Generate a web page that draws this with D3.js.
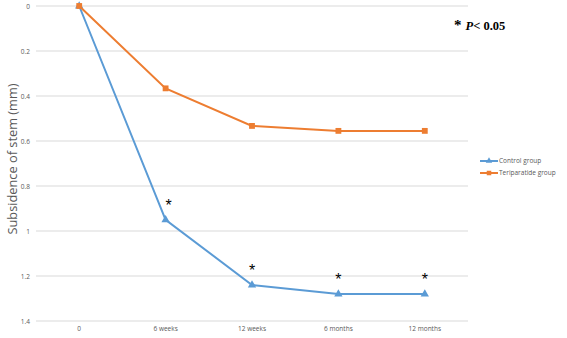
<!DOCTYPE html>
<html>
<head>
<meta charset="utf-8">
<script src="https://cdn.jsdelivr.net/npm/d3@7"></script>
<style>
  body { margin: 0; background: #fff; }
  svg { display: block; }
</style>
</head>
<body>
<svg id="chart" width="567" height="338"></svg>
<script>
var categories = ["0", "6 weeks", "12 weeks", "6 months", "12 months"];
var controlValues = [0, 0.95, 1.24, 1.28, 1.28];
var teriparatideValues = [0, 0.366, 0.533, 0.555, 0.555];
var yTicks = [0, 0.2, 0.4, 0.6, 0.8, 1, 1.2, 1.4];
// categories where control differs significantly (asterisks)
var sigCategories = ["6 weeks", "12 weeks", "6 months", "12 months"];

var svg = d3.select("#chart");

var x = d3.scaleBand()
    .domain(categories)
    .range([36, 468]);

// inverted axis: 0 on top, 1.4 at bottom
var y = d3.scaleLinear()
    .domain([0, 1.4])
    .range([6, 321]);

var grey = "#595959";

// gridlines
svg.append("g")
    .selectAll("line")
    .data(yTicks)
    .join("line")
    .attr("x1", 36)
    .attr("x2", 468)
    .attr("y1", function(d) { return y(d); })
    .attr("y2", function(d) { return y(d); })
    .attr("stroke", "#d9d9d9")
    .attr("stroke-width", 1);

// y axis labels
var yAxis = svg.append("g")
    .attr("transform", "translate(30,0)")
    .call(d3.axisLeft(y).tickValues(yTicks).tickSize(0).tickPadding(0)
        .tickFormat(function(d) { return String(d); }));
yAxis.select(".domain").remove();
yAxis.selectAll("text")
    .attr("fill", grey)
    .style("font-family", "'Open Sans', sans-serif")
    .style("font-size", "6.5px");

// x axis labels
var xAxis = svg.append("g")
    .attr("transform", "translate(0,326)")
    .call(d3.axisBottom(x).tickSize(0).tickPadding(0));
xAxis.select(".domain").remove();
xAxis.selectAll("text")
    .attr("fill", grey)
    .attr("dy", "0.7em")
    .style("font-family", "'Open Sans', sans-serif")
    .style("font-size", "6.5px");

// y axis title
svg.append("text")
    .attr("transform", "translate(17,159) rotate(-90)")
    .attr("text-anchor", "middle")
    .attr("fill", grey)
    .style("font-family", "'Open Sans', sans-serif")
    .style("font-size", "12.8px")
    .text("Subsidence of stem (mm)");

function cx(i) { return x(categories[i]) + x.bandwidth() / 2; }

var line = d3.line()
    .x(function(d, i) { return cx(i); })
    .y(function(d) { return y(d); });

var series = [
    { name: "Control group", values: controlValues, color: "#5B9BD5", marker: d3.symbolTriangle, size: 30 },
    { name: "Teriparatide group", values: teriparatideValues, color: "#ED7D31", marker: d3.symbolSquare, size: 34 }
];

series.forEach(function(s) {
    svg.append("path")
        .datum(s.values)
        .attr("d", line)
        .attr("fill", "none")
        .attr("stroke", s.color)
        .attr("stroke-width", 2);

    svg.append("g")
        .selectAll("path")
        .data(s.values)
        .join("path")
        .attr("d", d3.symbol().type(s.marker).size(s.size))
        .attr("transform", function(d, i) { return "translate(" + cx(i) + "," + y(d) + ")"; })
        .attr("fill", s.color);
});

// significance asterisks above the control points
svg.append("g")
    .selectAll("text")
    .data(sigCategories)
    .join("text")
    .attr("x", function(c) {
        var i = categories.indexOf(c);
        return cx(i) + (i === 1 ? 3 : 0);
    })
    .attr("y", function(c) { return y(controlValues[categories.indexOf(c)]) - 9; })
    .attr("text-anchor", "middle")
    .attr("fill", "#000")
    .style("font-family", "'Liberation Sans', sans-serif")
    .style("font-size", "16px")
    .text("*");

// legend
var legend = svg.append("g")
    .attr("transform", "translate(480,161)");
legend.selectAll("g")
    .data(series)
    .join("g")
    .attr("transform", function(d, i) { return "translate(0," + i * 12 + ")"; })
    .each(function(s) {
        var g = d3.select(this);
        g.append("line")
            .attr("x1", 0).attr("x2", 18)
            .attr("stroke", s.color)
            .attr("stroke-width", 2);
        g.append("path")
            .attr("d", d3.symbol().type(s.marker).size(s.size * 0.6))
            .attr("transform", "translate(9,0)")
            .attr("fill", s.color);
        g.append("text")
            .attr("x", 19)
            .attr("dy", "0.35em")
            .attr("fill", grey)
            .style("font-family", "'Open Sans', sans-serif")
            .style("font-size", "6.5px")
            .text(s.name);
    });

// p-value note
var note = svg.append("text")
    .attr("x", 454)
    .attr("y", 30)
    .attr("fill", "#000")
    .style("font-family", "'Liberation Serif', serif")
    .style("font-weight", "bold")
    .style("font-size", "12.5px");
note.append("tspan").style("font-size", "15px").text("*");
note.append("tspan").attr("dx", 4).style("font-style", "italic").text("P");
note.append("tspan").text("< 0.05");
</script>
</body>
</html>
